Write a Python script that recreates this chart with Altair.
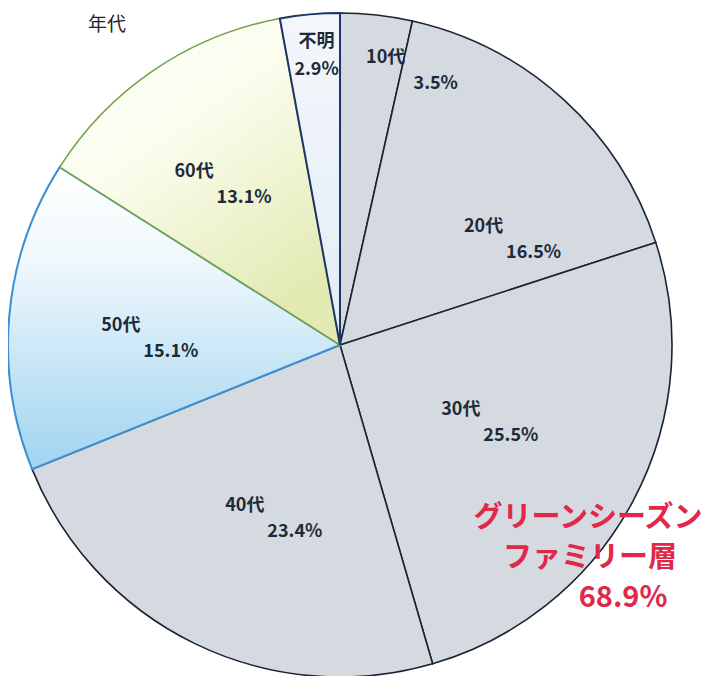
import math
import altair as alt
import pandas as pd

# ---- data ----
categories = ["10代", "20代", "30代", "40代", "50代", "60代", "不明"]
values = [3.5, 16.5, 25.5, 23.4, 15.1, 13.1, 2.9]
title_text = "年代"
callout_lines = ["グリーンシーズン", "ファミリー層", "68.9%"]

df = pd.DataFrame({"category": categories, "value": values, "idx": list(range(len(categories)))})

# ---- layout / style ----
CX, CY, R = 332, 337, 332
FONT = "Noto Sans CJK JP"
theta_scale = alt.Scale(domain=[0, 100], range=[0, 2 * math.pi])

GRAY = "#d4dadf"
GRAY_STROKE = "#1c2433"

fills = {
    "50代": {"gradient": "linear", "x1": 0, "y1": 0, "x2": 0, "y2": 1,
             "stops": [{"offset": 0, "color": "#ffffff"},
                       {"offset": 0.3, "color": "#f0f8fc"},
                       {"offset": 1, "color": "#a0d4ef"}]},
    "60代": {"gradient": "linear", "x1": 0, "y1": 0, "x2": 0.6, "y2": 1,
             "stops": [{"offset": 0, "color": "#ffffff"},
                       {"offset": 0.45, "color": "#fbfcec"},
                       {"offset": 1, "color": "#e2eab2"}]},
    "不明": {"gradient": "linear", "x1": 0, "y1": 0, "x2": 0, "y2": 1,
             "stops": [{"offset": 0, "color": "#f3f7fb"},
                       {"offset": 1, "color": "#e3ecf6"}]},
}
strokes = {"50代": ("#3d8fd1", 2.0), "60代": ("#72a34a", 1.6), "不明": ("#1f3566", 2.0)}

# label block placement: radius from centre, nudge (dx, dy)
label_layout = {
    "10代": (280, 40, 4),
    "20代": (200, 34, 43),
    "30代": (165, 0, 1),
    "40代": (188, 12, 5),
    "50代": (195, 0, 12),
    "60代": (200, -9, 6),
    "不明": (290, 3, 0),
}

base = (
    alt.Chart(df)
    .transform_window(cum="sum(value)", sort=[alt.SortField("idx")])
    .transform_calculate(start="datum.cum - datum.value",
                         mid="datum.cum - datum.value / 2",
                         pct="format(datum.value, '.1f') + '%'")
)

layers = []
gray_cats = [c for c in categories if c not in fills]
layers.append(
    base.transform_filter(alt.FieldOneOfPredicate(field="category", oneOf=gray_cats))
    .mark_arc(fill=GRAY, stroke=GRAY_STROKE, strokeWidth=1.6, outerRadius=R)
    .encode(theta=alt.Theta("start:Q", scale=theta_scale), theta2="cum:Q",
            x=alt.value(CX), y=alt.value(CY))
)
for cat in ["50代", "60代", "不明"]:
    sc, sw = strokes[cat]
    layers.append(
        base.transform_filter(alt.datum.category == cat)
        .mark_arc(fill=fills[cat], stroke=sc, strokeWidth=sw, outerRadius=R)
        .encode(theta=alt.Theta("start:Q", scale=theta_scale), theta2="cum:Q",
                x=alt.value(CX), y=alt.value(CY))
    )

for cat in categories:
    r, nx, ny = label_layout[cat]
    if cat == "不明":
        d1, d2 = (nx, ny - 14), (nx, ny + 14)
    else:
        d1, d2 = (nx - 25, ny - 13), (nx + 25, ny + 13)
    for field, (dx, dy) in (("category", d1), ("pct", d2)):
        layers.append(
            base.transform_filter(alt.datum.category == cat)
            .mark_text(font=FONT, fontSize=18, fontWeight="bold", color="#1e2a3a",
                       align="center", baseline="middle", dx=dx, dy=dy)
            .encode(theta=alt.Theta("mid:Q", scale=theta_scale), radius=alt.value(r),
                    x=alt.value(CX), y=alt.value(CY), text=f"{field}:N")
        )

title = alt.Chart(pd.DataFrame({"t": [title_text]})).mark_text(
    font=FONT, fontSize=19, color="#222222", align="center", baseline="middle"
).encode(x=alt.value(99), y=alt.value(17), text="t:N")
layers.append(title)

callout_df = pd.DataFrame({"t": callout_lines, "i": [0, 1, 2]})
callout_pos = [(580, 510), (582, 550), (615, 590)]
for (t, (px, py)) in zip(callout_lines, callout_pos):
    layers.append(
        alt.Chart(callout_df).transform_filter(alt.datum.t == t)
        .mark_text(font=FONT, fontSize=29, fontWeight="bold", color="#e0284a",
                   align="center", baseline="middle")
        .encode(x=alt.value(px), y=alt.value(py), text="t:N")
    )

chart = (
    alt.layer(*layers)
    .properties(width=698, height=668, padding=0,
                autosize=alt.AutoSizeParams(type="none"))
    .configure_view(stroke=None)
)

chart.save("out.html", embed_options={"renderer": "svg", "actions": False})
